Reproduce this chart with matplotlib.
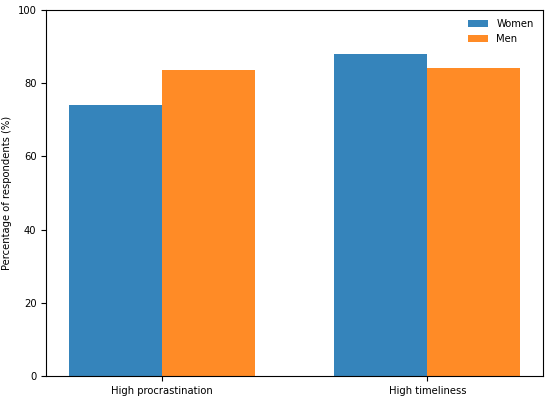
import numpy as np
import matplotlib.pyplot as plt

categories = ['High procrastination', 'High timeliness']
women = [74.1, 88.0]
men = [83.6, 84.1]
yticks = [0, 20, 40, 60, 80, 100]

fs = 7.2
fig = plt.figure(figsize=(5.5, 3.99), dpi=100)
ax = fig.add_axes([0.084, 0.058, 0.903, 0.917])

x = np.arange(len(categories))
width = 0.35
ax.bar(x - width / 2, women, width, color='tab:blue', alpha=0.9, label='Women')
ax.bar(x + width / 2, men, width, color='tab:orange', alpha=0.9, label='Men')

ax.set_xticks(x)
ax.set_xticklabels(categories, fontsize=fs)
ax.set_yticks(yticks)
ax.tick_params(axis='y', labelsize=fs)
ax.set_ylim(0, 100)
ax.set_ylabel('Percentage of respondents (%)', fontsize=fs)
ax.legend(frameon=False, fontsize=fs)

plt.savefig('out.png', dpi=100)
